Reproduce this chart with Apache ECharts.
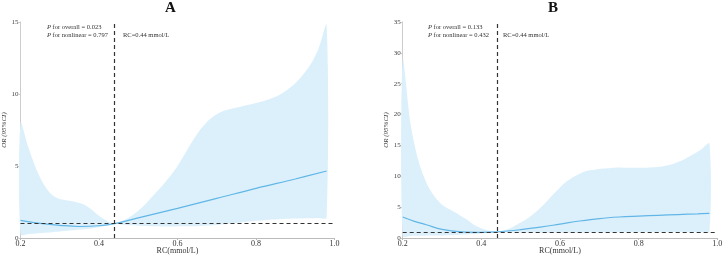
<!DOCTYPE html>
<html>
<head>
<meta charset="utf-8">
<script src="https://cdn.jsdelivr.net/npm/echarts@6/dist/echarts.min.js"></script>
<style>
  html, body { margin: 0; padding: 0; background: #fff; }
  #main { width: 723px; height: 256px; }
</style>
</head>
<body>
<div id="main"></div>
<script>
// x positions of the CI band (both panels)
const bandX = [0.20, 0.22, 0.24, 0.26, 0.28, 0.30, 0.32, 0.34, 0.36, 0.38,
               0.40, 0.42, 0.44, 0.46, 0.48, 0.50, 0.52, 0.54, 0.56, 0.58,
               0.60, 0.62, 0.64, 0.66, 0.68, 0.70, 0.72, 0.74, 0.76, 0.78,
               0.80, 0.82, 0.84, 0.86, 0.88, 0.90, 0.92, 0.94, 0.96, 0.98];

// panel A
const highA = [8.0, 6.3, 4.8, 3.7, 3.0, 2.7, 2.6, 2.5, 2.35, 2.0,
               1.55, 1.2, 1.0, 1.2, 1.5, 1.9, 2.4, 3.0, 3.6, 4.25,
               5.0, 5.9, 6.8, 7.6, 8.2, 8.6, 8.85, 9.0, 9.12, 9.25,
               9.38, 9.52, 9.7, 9.95, 10.3, 10.75, 11.35, 12.1, 13.2, 14.8];
const lowA  = [0.25, 0.28, 0.32, 0.36, 0.40, 0.45, 0.50, 0.55, 0.60, 0.66,
               0.74, 0.86, 0.98, 0.92, 0.88, 0.85, 0.83, 0.81, 0.80, 0.80,
               0.80, 0.81, 0.82, 0.84, 0.87, 0.91, 0.96, 1.02, 1.08, 1.14,
               1.20, 1.24, 1.28, 1.31, 1.33, 1.35, 1.36, 1.37, 1.39, 1.40];
const lineXA = [0.2, 0.25, 0.3, 0.35, 0.4, 0.44, 0.5, 0.6, 0.7, 0.8, 0.9, 0.98];
const orA    = [1.23, 1.02, 0.88, 0.80, 0.85, 1.0, 1.4, 2.06, 2.75, 3.45, 4.1, 4.65];

// panel B
const highB = [29, 18.5, 12.5, 9.0, 6.8, 5.4, 4.6, 3.9, 3.1, 2.2,
               1.6, 1.2, 1.0, 1.3, 1.8, 2.5, 3.3, 4.3, 5.5, 6.9,
               8.2, 9.3, 10.1, 10.7, 11.0, 11.2, 11.3, 11.4, 11.4, 11.4,
               11.4, 11.4, 11.45, 11.6, 11.85, 12.3, 12.9, 13.6, 14.4, 15.3];
const lowB  = [0.30, 0.33, 0.35, 0.37, 0.39, 0.42, 0.45, 0.50, 0.56, 0.64,
               0.74, 0.86, 0.98, 0.93, 0.89, 0.87, 0.86, 0.85, 0.85, 0.85,
               0.85, 0.86, 0.86, 0.87, 0.88, 0.89, 0.90, 0.91, 0.92, 0.92,
               0.93, 0.93, 0.94, 0.94, 0.94, 0.95, 0.95, 0.95, 0.95, 0.95];
const lineXB = [0.2, 0.23, 0.26, 0.3, 0.35, 0.4, 0.44, 0.5, 0.55, 0.6, 0.65, 0.7, 0.75, 0.8, 0.85, 0.9, 0.95, 0.98];
const orB    = [3.4, 2.7, 2.15, 1.4, 1.0, 0.92, 1.0, 1.35, 1.75, 2.25, 2.75, 3.15, 3.4, 3.55, 3.68, 3.8, 3.92, 4.0];

const yMaxA = 15, yMaxB = 35;
const refRC = 0.44, refOR = 1;

const SERIF = '"Liberation Serif", "DejaVu Serif", serif';
const bandColor = '#dcf0fc';
const lineColor = '#62b6e6';

function pairs(xs, ys) { return xs.map((x, i) => [x, ys[i]]); }

function xAxisCfg(idx) {
  return {
    gridIndex: idx, type: 'value', min: 0.2, max: 1.0, interval: 0.2,
    name: 'RC(mmol/L)', nameLocation: 'middle', nameGap: 9, nameMoveOverlap: false,
    nameTextStyle: { fontFamily: SERIF, fontSize: 8, color: '#333', verticalAlign: 'top' },
    axisLine: { lineStyle: { color: '#bbb' } },
    axisTick: { length: 2, lineStyle: { color: '#bbb' } },
    axisLabel: { fontFamily: SERIF, fontSize: 8, color: '#333', margin: 2,
      formatter: v => v.toFixed(1) },
    splitLine: { show: false }
  };
}
function yAxisCfg(idx, max) {
  return {
    gridIndex: idx, type: 'value', min: 0, max: max, interval: 5,
    name: 'OR (95%CI)', nameLocation: 'middle', nameGap: 13, nameRotate: 90, nameMoveOverlap: false,
    nameTextStyle: { fontFamily: SERIF, fontSize: 7, color: '#333', fontStyle: 'italic' },
    axisLine: { show: true, lineStyle: { color: '#ccc' } },
    axisTick: { show: true, length: 2, lineStyle: { color: '#ccc' } },
    axisLabel: { fontFamily: SERIF, fontSize: 7, color: '#444', margin: 2 },
    splitLine: { show: false }
  };
}
// confidence band as one polygon: upper edge forward, lower edge back
function bandSeries(idx, xs, lo, hi) {
  return {
    type: 'custom', xAxisIndex: idx, yAxisIndex: idx, silent: true, z: 1,
    data: [[xs[0], hi[0]]],
    renderItem: function (params, api) {
      const top = xs.map((x, i) => api.coord([x, hi[i]]));
      const bot = xs.map((x, i) => api.coord([x, lo[i]])).reverse();
      return {
        type: 'polygon',
        shape: { points: top.concat(bot), smooth: 0.3 },
        style: { fill: bandColor, stroke: null }
      };
    }
  };
}
function lineSeries(idx, xs, ys) {
  return {
    type: 'line', xAxisIndex: idx, yAxisIndex: idx, smooth: 0.4, symbol: 'none',
    lineStyle: { color: lineColor, width: 1.2 }, data: pairs(xs, ys), z: 3,
    markLine: {
      silent: true, symbol: 'none', label: { show: false },
      lineStyle: { color: '#333', type: [4, 3], width: 1.2 },
      data: [{ xAxis: refRC }, { yAxis: refOR }]
    }
  };
}
function notes(x0, pOverall, pNonlin, xRC) {
  const rich = { i: { fontStyle: 'italic', fontFamily: SERIF, fontSize: 6.5, fill: '#333' } };
  const st = { fontFamily: SERIF, fontSize: 6.5, fill: '#333', rich: rich };
  return [
    { type: 'text', left: x0, top: 24, style: Object.assign({ text: '{i|P} for overall = ' + pOverall }, st) },
    { type: 'text', left: x0, top: 32, style: Object.assign({ text: '{i|P} for nonlinear = ' + pNonlin }, st) },
    { type: 'text', left: xRC, top: 32, style: Object.assign({ text: 'RC=0.44 mmol/L' }, st) }
  ];
}

const chart = echarts.init(document.getElementById('main'));
chart.setOption({
  animation: false,
  grid: [
    { left: 20.5, right: 388.5, top: 22, bottom: 18, outerBoundsMode: 'none' },
    { left: 402.7, right: 5.7, top: 22, bottom: 18, outerBoundsMode: 'none' }
  ],
  xAxis: [xAxisCfg(0), xAxisCfg(1)],
  yAxis: [yAxisCfg(0, yMaxA), yAxisCfg(1, yMaxB)],
  graphic: [
    { type: 'text', left: 165, top: 1, style: { text: 'A', fontFamily: SERIF, fontWeight: 'bold', fontSize: 15, fill: '#111' } },
    { type: 'text', left: 548, top: 1, style: { text: 'B', fontFamily: SERIF, fontWeight: 'bold', fontSize: 15, fill: '#111' } }
  ].concat(notes(47, '0.023', '0.797', 123), notes(428, '0.133', '0.432', 503)),
  series: [
    bandSeries(0, bandX, lowA, highA),
    lineSeries(0, lineXA, orA),
    bandSeries(1, bandX, lowB, highB),
    lineSeries(1, lineXB, orB)
  ]
});
</script>
</body>
</html>
